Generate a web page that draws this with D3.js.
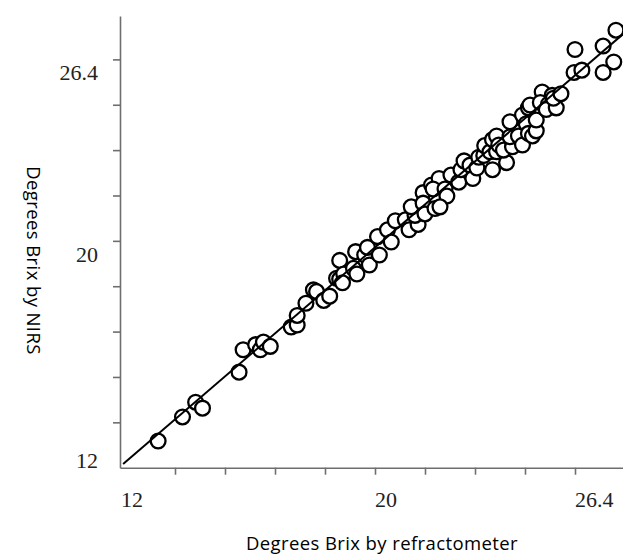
<!DOCTYPE html>
<html><head><meta charset="utf-8">
<script src="https://cdn.jsdelivr.net/npm/d3@7"></script>
<style>body{margin:0;background:#fff}svg{display:block}</style>
</head><body><svg id="c" width="623" height="554"></svg>
<script>
// Degrees Brix by refractometer (x) and by NIRS (y)
const refractometer = [13.06,13.84,14.26,14.48,15.65,15.78,16.18,16.33,16.43,16.65,17.32,17.51,17.51,17.79,18.03,18.13,18.36,18.55,18.77,18.87,18.87,19.00,18.96,19.31,19.38,19.42,19.67,19.82,19.76,20.14,20.08,20.40,20.52,20.65,20.97,21.09,21.38,21.28,21.16,21.54,21.54,21.60,21.92,21.81,22.05,21.86,22.24,22.30,22.08,22.43,22.68,22.75,22.85,23.04,23.13,23.26,23.32,23.48,23.51,23.76,23.68,23.76,23.89,23.89,23.96,24.21,24.11,24.40,24.32,24.46,24.59,24.32,24.72,24.72,24.91,24.84,24.91,25.04,25.16,24.96,25.16,25.35,25.29,25.55,25.67,25.48,25.80,25.71,25.95,26.40,26.37,26.62,27.30,27.30,27.64,27.71];
const nirs = [12.94,13.79,14.31,14.10,15.37,16.16,16.34,16.16,16.43,16.28,16.96,17.03,17.37,17.80,18.27,18.21,17.90,18.05,18.68,19.31,18.65,18.83,18.52,19.03,19.62,18.83,19.50,19.15,19.77,19.50,20.15,20.39,19.96,20.71,20.74,20.39,20.58,20.90,21.20,21.70,21.33,20.95,21.14,21.97,22.20,21.83,21.83,21.58,21.20,22.32,22.07,22.51,22.82,22.67,22.20,22.57,22.95,23.01,23.36,22.51,23.14,23.57,23.70,23.14,23.38,22.76,23.20,23.32,23.67,24.13,23.70,24.20,23.38,24.44,24.69,24.13,23.79,23.70,23.88,24.79,24.26,25.25,24.88,24.82,25.13,24.63,24.69,25.03,25.19,26.75,25.94,26.02,26.87,25.94,26.31,27.43];
const tickValues = [13.6,15.2,16.8,18.4,20,21.6,23.2,24.8,26.4];
const labelValues = [12,20,26.4];
const fitX = [11.94, 28];
const fitY = [12.13, 27.35];
const xTitle = "Degrees Brix by refractometer";
const yTitle = "Degrees Brix by NIRS";

const svg = d3.select("#c");
const x = d3.scaleLinear().domain([11.84, 28]).range([120, 625]);
const y = d3.scaleLinear().domain([12, 27.93]).range([467.7, 16]);
const axisColor = "#6e6e6e";

const gx = svg.append("g").attr("transform", `translate(0,${y(12)})`)
  .call(d3.axisBottom(x).tickValues(tickValues).tickFormat("").tickSize(7).tickSizeOuter(0));
const gy = svg.append("g").attr("transform", `translate(${x(11.84)},0)`)
  .call(d3.axisLeft(y).tickValues(tickValues).tickFormat("").tickSize(7).tickSizeOuter(0));
[gx, gy].forEach(g => {
  g.selectAll("path,line").attr("stroke", axisColor).attr("stroke-width", 1.6);
});

const pts = refractometer.map((v, i) => [v, nirs[i]]);
svg.append("g").selectAll("circle").data(pts).join("circle")
  .attr("cx", d => x(d[0])).attr("cy", d => y(d[1])).attr("r", 7.4)
  .attr("fill", "#fff").attr("stroke", "#000").attr("stroke-width", 2.3);

svg.append("line")
  .attr("x1", x(fitX[0])).attr("y1", y(fitY[0]))
  .attr("x2", x(fitX[1])).attr("y2", y(fitY[1]))
  .attr("stroke", "#000").attr("stroke-width", 2);

const serif = "'Liberation Serif', 'DejaVu Serif', serif";
svg.append("g").selectAll("text").data(labelValues).join("text")
  .attr("x", d => x(d) - (d === 12 ? 4 : 0)).attr("y", 507)
  .attr("font-family", serif).attr("font-size", 22).attr("fill", "#222")
  .text(d => d);
svg.append("g").selectAll("text").data(labelValues).join("text")
  .attr("x", 98).attr("y", d => y(d) + (d === 12 ? 0 : 21))
  .attr("text-anchor", "end")
  .attr("font-family", serif).attr("font-size", 22).attr("fill", "#222")
  .text(d => d);

const sans = "'Open Sans', 'Noto Sans', sans-serif";
svg.append("text").attr("x", 382).attr("y", 550).attr("text-anchor", "middle")
  .attr("font-family", sans).attr("font-size", 18.5).attr("letter-spacing", 0.4)
  .attr("fill", "#000").text(xTitle);
svg.append("text").attr("transform", `translate(27,260.5) rotate(90)`).attr("text-anchor", "middle")
  .attr("font-family", sans).attr("font-size", 18.5).attr("letter-spacing", 0.4)
  .attr("fill", "#000").text(yTitle);
</script>
</body></html>
